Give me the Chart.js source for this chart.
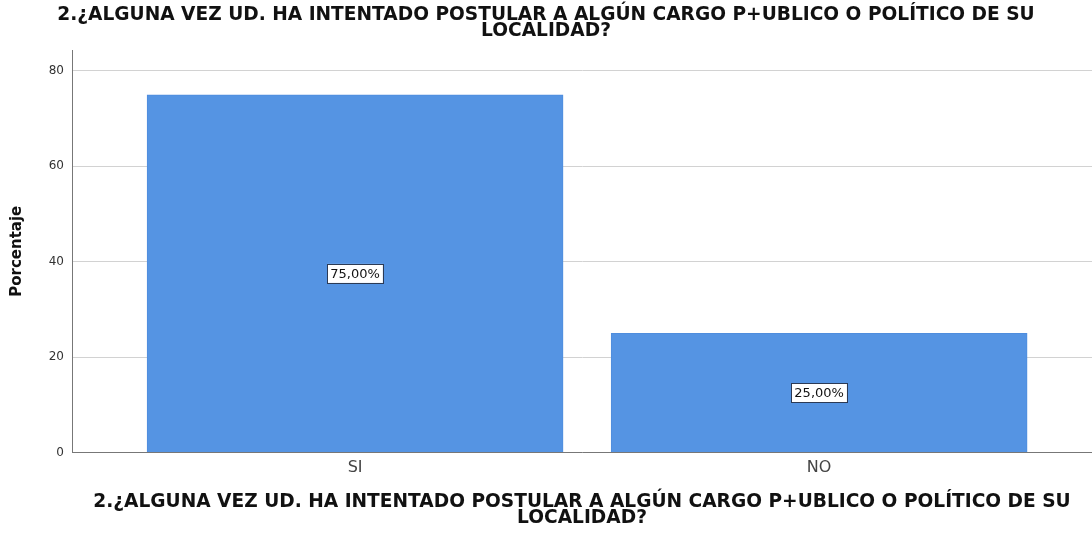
<!DOCTYPE html>
<html>
<head>
<meta charset="utf-8">
<script src="https://cdn.jsdelivr.net/npm/chart.js@4"></script>
<style>
  html, body { margin: 0; padding: 0; background: #fff; }
</style>
</head>
<body>
<canvas id="chart" width="1092" height="535"></canvas>
<script>
const categories = ['SI', 'NO'];
const percentValues = [75, 25];
const valueLabels = ['75,00%', '25,00%'];
const yTicks = [0, 20, 40, 60, 80];
const chartTitle = ['2.¿ALGUNA VEZ UD. HA INTENTADO POSTULAR A ALGÚN CARGO P+UBLICO O POLÍTICO DE SU', 'LOCALIDAD?'];
const yTitle = 'Porcentaje';

Chart.defaults.font.family = "'DejaVu Sans', 'Liberation Sans', Arial, sans-serif";

// boxed percentage in the middle of each bar
const boxLabels = {
  id: 'boxLabels',
  afterDatasetsDraw(chart) {
    const ctx = chart.ctx;
    chart.getDatasetMeta(0).data.forEach((bar, i) => {
      const cx = bar.x;
      const cy = (bar.y + bar.base) / 2;
      ctx.save();
      ctx.font = "13px 'DejaVu Sans', Arial, sans-serif";
      const w = ctx.measureText(valueLabels[i]).width + 6;
      const h = 19;
      ctx.fillStyle = '#ffffff';
      ctx.fillRect(cx - w / 2, cy - h / 2, w, h);
      ctx.strokeStyle = '#2b3a55';
      ctx.lineWidth = 1;
      ctx.strokeRect(Math.round(cx - w / 2) + 0.5, Math.round(cy - h / 2) + 0.5, Math.round(w), h);
      ctx.fillStyle = '#111';
      ctx.textAlign = 'center';
      ctx.textBaseline = 'middle';
      ctx.fillText(valueLabels[i], cx, cy + 1);
      ctx.restore();
    });
  }
};

new Chart(document.getElementById('chart').getContext('2d'), {
  type: 'bar',
  data: {
    datasets: [{
      data: categories.map((c, i) => ({ x: i, y: percentValues[i] })),
      backgroundColor: '#5594e3',
      borderColor: '#4f8ddd',
      borderWidth: 1,
      barThickness: 416
    }]
  },
  options: {
    responsive: false,
    animation: false,
    layout: { padding: 0 },
    plugins: {
      legend: { display: false },
      tooltip: { enabled: false },
      title: {
        display: true,
        text: chartTitle,
        color: '#111',
        font: { size: 18.6, weight: 'bold', lineHeight: 0.82 },
        padding: { top: 8, bottom: 11.5 }
      }
    },
    scales: {
      x: {
        type: 'linear',
        offset: false,
        min: -0.61,
        max: 1.588,
        afterBuildTicks: scale => { scale.ticks = categories.map((c, i) => ({ value: i })); },
        afterFit: scale => { scale.height = 82.5; },
        grid: { display: false, drawTicks: false },
        border: { display: true, color: '#777', width: 1 },
        ticks: {
          callback: v => categories[v],
          color: '#444',
          font: { size: 16 },
          padding: 6,
          maxRotation: 0
        },
        title: {
          display: true,
          text: chartTitle,
          color: '#111',
          font: { size: 18.6, weight: 'bold', lineHeight: 0.82 },
          padding: { top: 0, bottom: 9.6 }
        }
      },
      y: {
        min: 0,
        max: 84.4,
        afterBuildTicks: scale => { scale.ticks = yTicks.map(v => ({ value: v })); },
        afterFit: scale => { scale.width = 72; },
        grid: { color: '#d2d2d2', drawTicks: false },
        border: { display: true, color: '#777', width: 1 },
        ticks: {
          color: '#333',
          font: { size: 12 },
          padding: 8
        },
        title: {
          display: true,
          text: yTitle,
          color: '#111',
          font: { size: 15, weight: 'bold', lineHeight: 1.2 },
          padding: { top: 8, bottom: 0 }
        }
      }
    }
  },
  plugins: [boxLabels]
});
</script>
</body>
</html>
